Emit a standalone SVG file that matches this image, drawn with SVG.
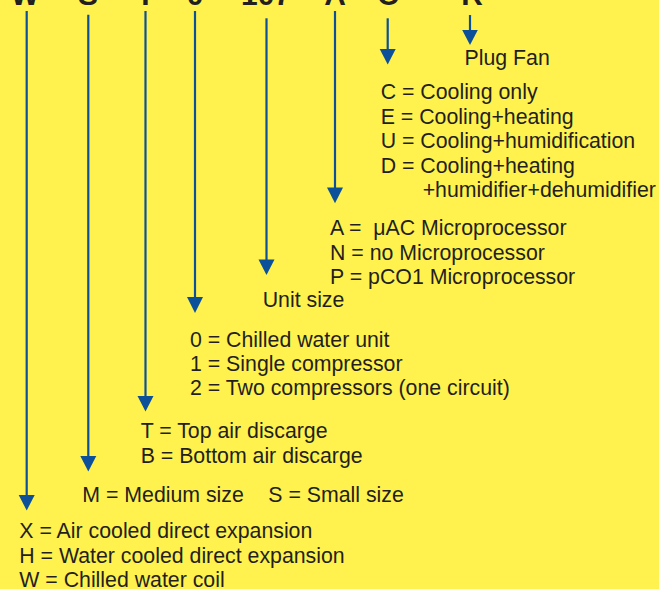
<svg xmlns="http://www.w3.org/2000/svg" width="659" height="589" viewBox="0 0 659 589">
<defs>
<style>
.t{font-family:"Liberation Sans",Arial,sans-serif;font-size:21.3px;fill:#231f20;white-space:pre}
.h{font-family:"Liberation Sans",Arial,sans-serif;font-size:30px;font-weight:bold;fill:#231f20;text-anchor:middle}
.c line{stroke:#0b5098;stroke-width:2.2}
.c polygon{fill:#0b5098}
</style>
</defs>
<rect width="659" height="589" fill="#fff24e"/>
<g id="code">
<text class="h" x="25" y="5">W</text>
<text class="h" x="88" y="5">S</text>
<text class="h" x="145.5" y="5">T</text>
<text class="h" x="195" y="5">0</text>
<text class="h" x="266" y="5">107</text>
<text class="h" x="335" y="5">A</text>
<text class="h" x="388" y="5">C</text>
<text class="h" x="472" y="5">R</text>
</g>
<g id="connectors" class="c">
<line x1="26.7" y1="11" x2="26.7" y2="500"/><polygon points="18.7,495 34.7,495 26.7,510.5"/>
<line x1="88.3" y1="14.7" x2="88.3" y2="462"/><polygon points="80.3,456 96.3,456 88.3,471.5"/>
<line x1="145.5" y1="11" x2="145.5" y2="402"/><polygon points="137.5,396 153.5,396 145.5,411.5"/>
<line x1="195" y1="11" x2="195" y2="303"/><polygon points="187,297 203,297 195,313"/>
<line x1="266.5" y1="18.3" x2="266.5" y2="265"/><polygon points="258.5,259.5 274.5,259.5 266.5,275"/>
<line x1="335" y1="11" x2="335" y2="193"/><polygon points="327,187.5 343,187.5 335,203.3"/>
<line x1="387.7" y1="18.3" x2="387.7" y2="55"/><polygon points="379.7,49 395.7,49 387.7,64.5"/>
<line x1="470" y1="15" x2="470" y2="36"/><polygon points="462.2,30 477.8,30 470,45"/>
</g>
<g id="plug-fan"><text class="t" x="464.5" y="64.5">Plug Fan</text></g>
<g id="function">
<text class="t" x="380.7" y="99">C = Cooling only</text>
<text class="t" x="380.7" y="123.5">E = Cooling+heating</text>
<text class="t" x="380.7" y="148">U = Cooling+humidification</text>
<text class="t" x="380.7" y="172.5">D = Cooling+heating</text>
<text class="t" x="422.7" y="197">+humidifier+dehumidifier</text>
</g>
<g id="control">
<text class="t" x="330" y="235">A =  μAC Microprocessor</text>
<text class="t" x="330" y="259.5">N = no Microprocessor</text>
<text class="t" x="330" y="283.5">P = pCO1 Microprocessor</text>
</g>
<g id="unit-size"><text class="t" x="262.7" y="306.7">Unit size</text></g>
<g id="compressors">
<text class="t" x="190" y="346.5">0 = Chilled water unit</text>
<text class="t" x="190" y="370.5">1 = Single compressor</text>
<text class="t" x="190" y="394.5">2 = Two compressors (one circuit)</text>
</g>
<g id="discharge">
<text class="t" x="140.7" y="438.3">T = Top air discarge</text>
<text class="t" x="140.7" y="463">B = Bottom air discarge</text>
</g>
<g id="size">
<text class="t" x="82.3" y="501.7">M = Medium size</text>
<text class="t" x="268.3" y="501.7">S = Small size</text>
</g>
<g id="type">
<text class="t" x="19.3" y="538.3">X = Air cooled direct expansion</text>
<text class="t" x="19.3" y="562.5">H = Water cooled direct expansion</text>
<text class="t" x="19.3" y="586.7">W = Chilled water coil</text>
</g>
</svg>
